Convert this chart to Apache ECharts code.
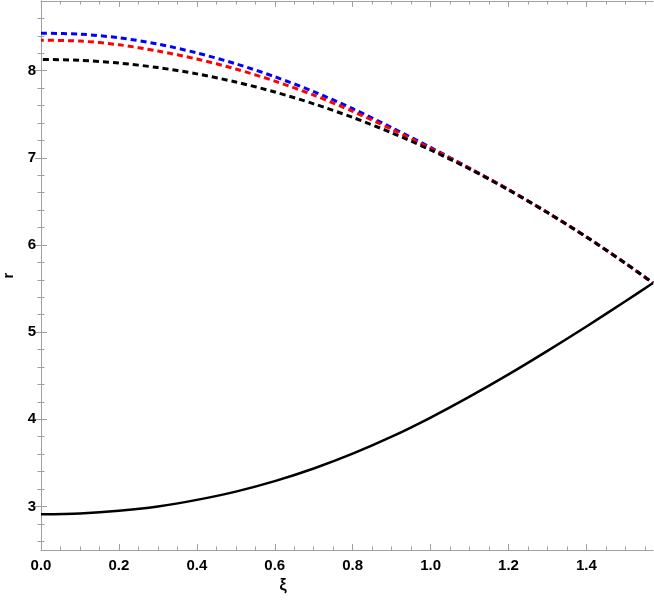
<!DOCTYPE html>
<html>
<head>
<meta charset="utf-8">
<script src="https://cdn.jsdelivr.net/npm/echarts@6/dist/echarts.min.js"></script>
<style>
  html, body { margin: 0; padding: 0; background: #fff; }
  #chart { width: 654px; height: 605px; }
</style>
</head>
<body>
<div id="chart"></div>
<script>
// xi samples (last one is pi/2)
const xi = [0, 0.1, 0.2, 0.3, 0.4, 0.5, 0.6, 0.7, 0.8, 0.9, 1.0, 1.1, 1.2, 1.3, 1.4, 1.5, 1.5708]

// upper branches (dashed)
const rBlue = [8.43, 8.42, 8.378, 8.306, 8.204, 8.08, 7.931, 7.76, 7.564, 7.348, 7.12, 6.882, 6.637, 6.372, 6.092, 5.79, 5.564]
const rRed = [8.35, 8.34, 8.298, 8.226, 8.134, 8.02, 7.881, 7.72, 7.534, 7.328, 7.11, 6.88, 6.635, 6.372, 6.092, 5.79, 5.564]
const rBlackDash = [8.13, 8.12, 8.088, 8.036, 7.964, 7.87, 7.756, 7.62, 7.464, 7.288, 7.09, 6.872, 6.632, 6.372, 6.092, 5.79, 5.564]
// lower branch (solid)
const rLower = [2.91, 2.92, 2.95, 3.0, 3.075, 3.17, 3.29, 3.435, 3.605, 3.8, 4.02, 4.26, 4.515, 4.785, 5.065, 5.355, 5.564]

// ticks
const xMajor = [0, 0.2, 0.4, 0.6, 0.8, 1.0, 1.2, 1.4]
const xMinor = [0.05, 0.1, 0.15, 0.25, 0.3, 0.35, 0.45, 0.5, 0.55, 0.65, 0.7, 0.75, 0.85, 0.9, 0.95,
  1.05, 1.1, 1.15, 1.25, 1.3, 1.35, 1.45, 1.5, 1.55]
const yMajor = [3, 4, 5, 6, 7, 8]
const yMinor = [2.6, 2.8, 3.2, 3.4, 3.6, 3.8, 4.2, 4.4, 4.6, 4.8, 5.2, 5.4, 5.6, 5.8, 6.2, 6.4, 6.6, 6.8,
  7.2, 7.4, 7.6, 7.8, 8.2, 8.4, 8.6]

const X_MIN = 0
const X_MAX = Math.PI / 2
const Y_MIN = 2.5
const Y_MAX = 8.8

const frameColor = '#a0a0a0'
const labelFont = { color: '#000', fontFamily: 'Liberation Sans', fontWeight: 'bold', fontSize: 15 }

const pairs = ys => xi.map((x, i) => [x, ys[i]])

const makeAxis = (dim, position, ticks, major, withLabels) => {
  const isX = dim === 'x'
  return {
    type: 'value',
    position: position,
    offset: 0,
    min: isX ? X_MIN : Y_MIN,
    max: isX ? X_MAX : Y_MAX,
    axisLine: { show: major, lineStyle: { color: frameColor, width: 1 } },
    axisTick: {
      show: true,
      inside: true,
      length: major ? 6 : 3.5,
      customValues: ticks,
      lineStyle: { color: frameColor, width: 1 }
    },
    axisLabel: withLabels ? {
      show: true,
      customValues: ticks,
      margin: isX ? 8 : 5,
      formatter: v => isX ? v.toFixed(1) : String(v),
      ...labelFont
    } : { show: false },
    splitLine: { show: false }
  }
}

const dashSeries = (name, ys, color, offset) => ({
  name: name,
  type: 'line',
  data: pairs(ys),
  smooth: 0.3,
  symbol: 'none',
  silent: true,
  lineStyle: { color: color, width: 3, type: [6, 4], dashOffset: offset }
})

const chart = echarts.init(document.getElementById('chart'), null, { renderer: 'canvas' })

const xAxes = [
  makeAxis('x', 'bottom', xMajor, true, true),
  makeAxis('x', 'bottom', xMinor, false, false),
  makeAxis('x', 'top', xMajor, true, false),
  makeAxis('x', 'top', xMinor, false, false)
]
Object.assign(xAxes[0], {
  name: 'ξ',
  nameLocation: 'middle',
  nameGap: 28,
  nameTextStyle: { ...labelFont, fontSize: 16, padding: [0, 128, 0, 0] }
})

const yAxes = [
  makeAxis('y', 'left', yMajor, true, true),
  makeAxis('y', 'left', yMinor, false, false),
  makeAxis('y', 'right', yMajor, true, false),
  makeAxis('y', 'right', yMinor, false, false)
]
Object.assign(yAxes[0], {
  name: 'r',
  nameLocation: 'middle',
  nameGap: 25,
  nameTextStyle: { ...labelFont, fontSize: 15 }
})

chart.setOption({
  animation: false,
  backgroundColor: '#fff',
  grid: { left: 41, right: 1, top: 1, bottom: 55, containLabel: false, outerBoundsMode: 'none' },
  xAxis: xAxes,
  yAxis: yAxes,
  series: [
    dashSeries('blue', rBlue, '#0000ff', 0),
    dashSeries('red', rRed, '#ff0000', 3),
    dashSeries('black dashed', rBlackDash, '#000000', 8),
    {
      name: 'lower',
      type: 'line',
      data: pairs(rLower),
      smooth: 0.3,
      symbol: 'none',
      silent: true,
      lineStyle: { color: '#000', width: 2.5 }
    }
  ]
})
</script>
</body>
</html>
